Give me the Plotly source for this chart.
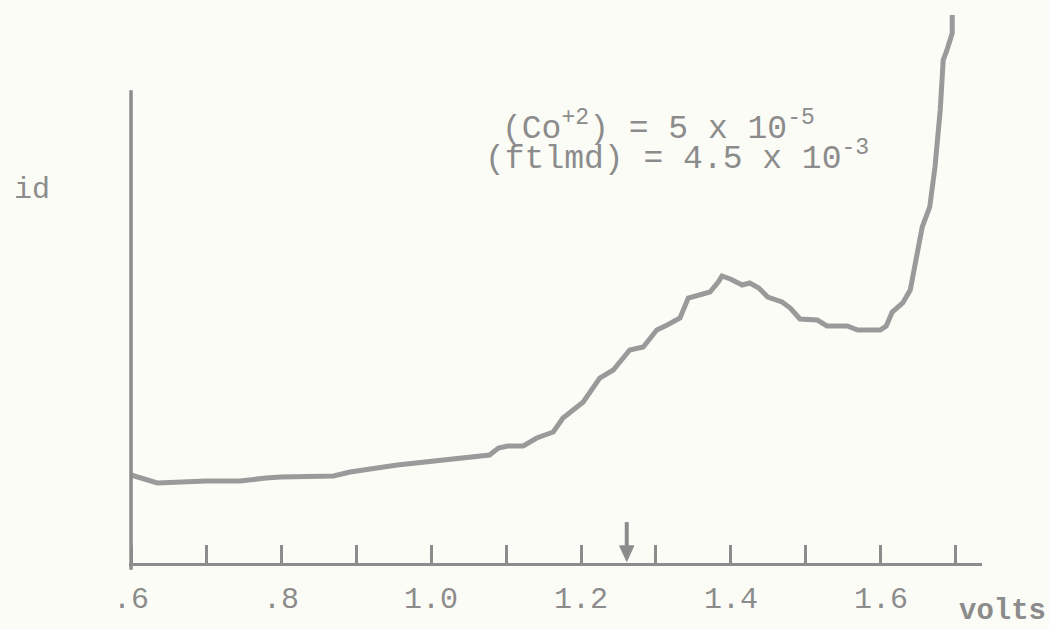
import plotly.graph_objects as go

# Polarographic wave: diffusion current vs applied potential
volts = [0.600, 0.635, 0.700, 0.745, 0.780, 0.800, 0.870, 0.892, 0.955, 1.025,
         1.078, 1.090, 1.102, 1.123, 1.141, 1.163, 1.176, 1.203, 1.225, 1.243,
         1.265, 1.283, 1.301, 1.315, 1.332, 1.343, 1.355, 1.372, 1.383, 1.388,
         1.399, 1.415, 1.425, 1.437, 1.449, 1.468, 1.479, 1.492, 1.515, 1.528,
         1.555, 1.569, 1.599, 1.607, 1.615, 1.629, 1.639, 1.645, 1.648, 1.655,
         1.665, 1.672, 1.679, 1.683, 1.688, 1.695, 1.695]
id_current = [8.8, 8.0, 8.2, 8.2, 8.5, 8.6, 8.7, 9.1, 9.8, 10.3,
              10.8, 11.5, 11.7, 11.7, 12.5, 13.1, 14.5, 16.1, 18.5, 19.3,
              21.3, 21.6, 23.3, 23.8, 24.5, 26.5, 26.8, 27.1, 28.1, 28.7,
              28.4, 27.8, 28.0, 27.5, 26.6, 26.1, 25.5, 24.4, 24.3, 23.7,
              23.7, 23.3, 23.3, 23.7, 25.1, 26.0, 27.3, 29.6, 31.3, 33.6,
              35.6, 39.6, 45.3, 50.3, 51.3, 53.0, 54.8]

label_vals = [0.6, 0.8, 1.0, 1.2, 1.4, 1.6]
label_text = [".6", ".8", "1.0", "1.2", "1.4", "1.6"]

marker_volts = 1.261

INK = "#8c8c8c"
PAPER = "#fcfcf7"
FONT = "Liberation Mono, Courier New, monospace"

fig = go.Figure()
fig.add_trace(go.Scatter(
    x=volts, y=id_current, mode="lines",
    line=dict(color="#9a9a9a", width=5),
    hoverinfo="skip", showlegend=False,
))

fig.update_layout(
    width=1049, height=629,
    margin=dict(l=129, r=67, t=10, b=66, autoexpand=False),
    paper_bgcolor=PAPER, plot_bgcolor=PAPER,
    xaxis=dict(
        range=[0.5973, 1.7347], showgrid=False, zeroline=False,
        automargin=False,
        showline=True, linecolor=INK, linewidth=3,
        tickmode="array", tickvals=label_vals, ticktext=label_text,
        ticks="", ticklabelstandoff=6,
        tickfont=dict(family=FONT, size=30, color=INK),
        minor=dict(tick0=0.6, dtick=0.1, ticks="inside", ticklen=18,
                   tickwidth=3, tickcolor=INK, showgrid=False),
    ),
    yaxis=dict(
        range=[0, 55.3], showgrid=False, zeroline=False, automargin=False,
        showline=False, showticklabels=False, ticks="",
    ),
)

# vertical axis stops short of the top of the trace
fig.add_shape(type="line", xref="x", yref="y domain",
              x0=0.6, x1=0.6, y0=-0.012, y1=0.855,
              line=dict(color=INK, width=3.5))

# arrow marking the half-wave potential: shaft and head
fig.add_shape(type="line", xref="x", yref="y domain",
              x0=marker_volts, x1=marker_volts, y0=0.02, y1=0.074,
              line=dict(color=INK, width=4))
fig.add_shape(type="path", xref="x", yref="y domain",
              path=(f"M {marker_volts - 0.0095},0.031 "
                    f"L {marker_volts + 0.0095},0.031 "
                    f"L {marker_volts},0.003 Z"),
              fillcolor=INK, line=dict(color=INK, width=1))

fig.add_annotation(x=-0.1138, y=0.6745, xref="paper", yref="paper",
                   text="id", showarrow=False, xanchor="center", yanchor="middle",
                   font=dict(family=FONT, size=30, color=INK))
fig.add_annotation(x=1.0246, y=-0.0886, xref="paper", yref="paper",
                   text="<b>volts</b>", showarrow=False, xanchor="center", yanchor="middle",
                   font=dict(family=FONT, size=29, color=INK))

fig.add_annotation(x=(500 - 129) / 853, y=(563 - 126) / 553, xref="paper", yref="paper",
                   text="(Co<sup>+2</sup>) = 5 x 10<sup>-5</sup>", showarrow=False,
                   xanchor="left", yanchor="middle",
                   font=dict(family=FONT, size=33, color=INK))
fig.add_annotation(x=(483 - 129) / 853, y=(563 - 157) / 553, xref="paper", yref="paper",
                   text="(ftlmd) = 4.5 x 10<sup>-3</sup>", showarrow=False,
                   xanchor="left", yanchor="middle",
                   font=dict(family=FONT, size=33, color=INK))

fig.write_html("out.html")
